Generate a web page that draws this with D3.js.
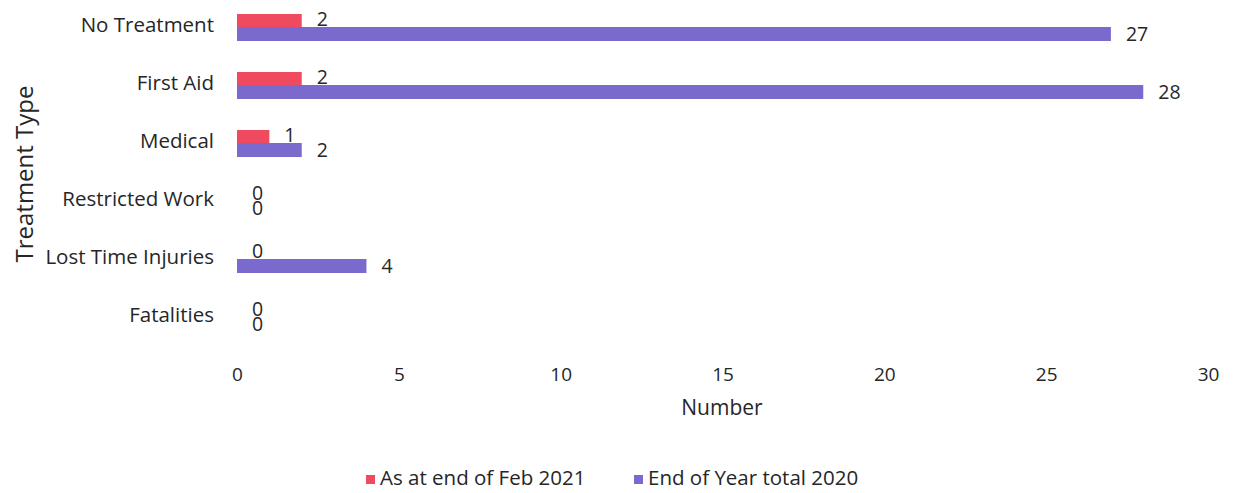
<!DOCTYPE html>
<html><head><meta charset="utf-8">
<script src="https://cdn.jsdelivr.net/npm/d3@7"></script>
<style>body{margin:0;background:#fff;} text{font-family:"Open Sans",Lato,sans-serif;fill:#262626;}</style>
</head><body>
<svg id="c" width="1238" height="493"></svg>
<script>
const categories = ["No Treatment","First Aid","Medical","Restricted Work","Lost Time Injuries","Fatalities"];
const seriesNames = ["As at end of Feb 2021","End of Year total 2020"];
const feb2021 = [2,2,1,0,0,0];
const total2020 = [27,28,2,0,4,0];
const xTicks = [0,5,10,15,20,25,30];
const colors = ["#f04a60","#7b6acd"];

const svg = d3.select("#c");
const x = d3.scaleLinear().domain([0,30]).range([237,1208]);
const y = d3.scaleBand().domain(categories).range([-2,346]);
const inner = d3.scaleBand().domain([0,1]).range([-14,14]);

const g = svg.append("g");
g.selectAll("text.cat").data(categories).enter().append("text")
  .attr("class","cat").attr("x",214).attr("y",d=>y(d)+y.bandwidth()/2)
  .attr("text-anchor","end").attr("dominant-baseline","middle")
  .style("font-size","20.5px").text(d=>d);

const rows = categories.map((c,i)=>({c, v:[feb2021[i], total2020[i]]}));
g.selectAll("rect.s0").data(rows).enter().append("rect")
  .attr("x",x(0)).attr("y",d=>y(d.c)+y.bandwidth()/2+inner(0)+1)
  .attr("width",d=>x(d.v[0])-x(0)).attr("height",inner.bandwidth()-1).attr("fill",colors[0]);
g.selectAll("text.l0").data(rows).enter().append("text")
  .attr("x",d=>x(d.v[0])+15).attr("y",d=>y(d.c)+y.bandwidth()/2-6)
  .attr("dominant-baseline","middle").style("font-size","19.5px").text(d=>d.v[0]);
g.selectAll("rect.s1").data(rows).enter().append("rect")
  .attr("x",x(0)).attr("y",d=>y(d.c)+y.bandwidth()/2+inner(1))
  .attr("width",d=>x(d.v[1])-x(0)).attr("height",inner.bandwidth()).attr("fill",colors[1]);
g.selectAll("text.l1").data(rows).enter().append("text")
  .attr("x",d=>x(d.v[1])+15).attr("y",d=>y(d.c)+y.bandwidth()/2+9)
  .attr("dominant-baseline","middle").style("font-size","19.5px").text(d=>d.v[1]);

const ax = svg.append("g").attr("transform","translate(0,360)")
  .call(d3.axisBottom(x).tickValues(xTicks).tickSize(0).tickPadding(8));
ax.select(".domain").remove();
ax.selectAll("text").style("font-size","19px").style("font-family","'Open Sans',Lato,sans-serif").attr("fill","#262626");

svg.append("text").attr("x",722).attr("y",409).attr("text-anchor","middle")
  .attr("dominant-baseline","middle").style("font-size","21px").text("Number");
svg.append("text").attr("transform","translate(27,174) rotate(-90)").attr("text-anchor","middle")
  .attr("dominant-baseline","middle").style("font-size","24px").text("Treatment Type");

const leg = [{x:366},{x:634}];
seriesNames.forEach((n,i)=>{
  svg.append("rect").attr("x",leg[i].x).attr("y",475).attr("width",9).attr("height",9).attr("fill",colors[i]);
  svg.append("text").attr("x",leg[i].x+14).attr("y",480).attr("dominant-baseline","middle")
    .style("font-size","20.5px").text(n);
});
</script>
</body></html>
